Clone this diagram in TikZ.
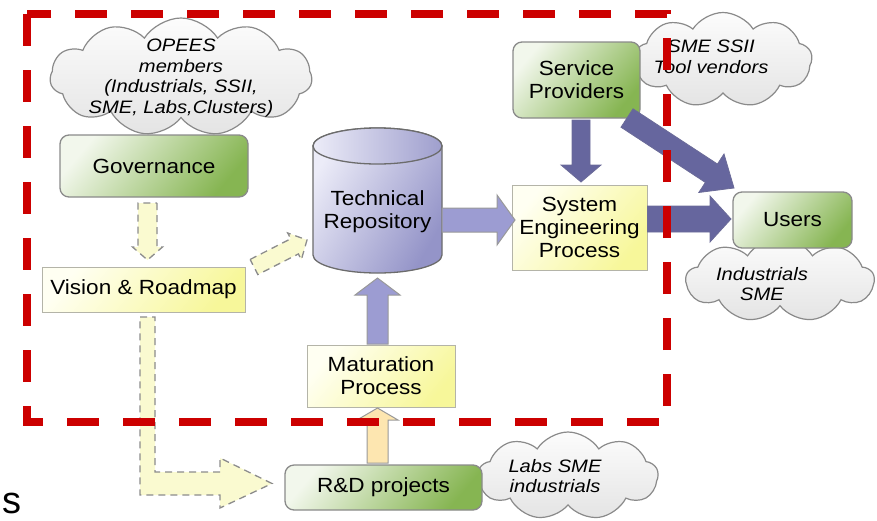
\documentclass[tikz,border=0pt]{standalone}
\usepackage{fontspec}
\setmainfont{Liberation Sans}
\newfontfamily\boxfont[FakeStretch=1.1]{Liberation Sans}
\newfontfamily\cloudfont[FakeStretch=1.12]{Liberation Sans}
\usetikzlibrary{calc,shapes.symbols}
\definecolor{grnL}{HTML}{F2F7EC}
\definecolor{grnD}{HTML}{86B552}
\definecolor{ylwL}{HTML}{FFFFF2}
\definecolor{ylwD}{HTML}{F7F79A}
\definecolor{boxline}{HTML}{8A8A8A}
\definecolor{ylwline}{HTML}{B4B4A8}
\definecolor{cldL}{HTML}{FCFCFC}
\definecolor{cldD}{HTML}{E4E4E4}
\definecolor{cylL}{HTML}{ECECF8}
\definecolor{cylD}{HTML}{9494C8}
\definecolor{darkarr}{HTML}{66669E}
\definecolor{lightarr}{HTML}{9C9CD2}
\definecolor{peach}{HTML}{FDE6B0}
\definecolor{dashfill}{HTML}{FAFAD0}
\definecolor{redline}{HTML}{CC0000}
\newcommand{\blockarr}[6]{%
  \coordinate (bac) at ($(#3)!#6!(#2)$);
  \draw[#1] ($(#2)!#4!90:(#3)$) -- ($(bac)!#4!90:(#3)$) -- ($(bac)!#5!90:(#3)$) -- (#3)
    -- ($(bac)!#5!-90:(#3)$) -- ($(bac)!#4!-90:(#3)$) -- ($(#2)!#4!-90:(#3)$) -- cycle;}
\begin{document}
\begin{tikzpicture}[x=1pt,y=-1pt,
  boxtext/.style={font=\boxfont\fontsize{20.5}{23}\selectfont, align=center, inner sep=0pt},
  greenbox/.style={boxtext, draw=boxline, line width=1.3pt, rounded corners=9pt,
    top color=grnL, bottom color=grnD, shading angle=50},
  yellowbox/.style={boxtext, draw=ylwline, line width=1pt,
    top color=ylwL, bottom color=ylwD, shading angle=50},
  cloudshape/.style={cloud, cloud puffs=#1, cloud puff arc=115, cloud ignores aspect,
    draw=boxline, line width=1.2pt, top color=cldL, bottom color=cldD, inner sep=0pt},
  cloudtext/.style={font=\cloudfont\fontsize{18}{20.6}\selectfont\itshape, align=center, inner sep=0pt},
  darkstyle/.style={fill=darkarr, draw=darkarr!80!gray, line width=0.8pt},
  lightstyle/.style={fill=lightarr, draw=gray!80, line width=1pt},
  peachstyle/.style={fill=peach, draw=gray!80, line width=1pt},
  dashstyle/.style={fill=dashfill, draw=gray!90, line width=1.3pt, dash pattern=on 7pt off 5pt},
]
\useasboundingbox (0,0) rectangle (877,520);

% clouds
\node[cloudshape=11, minimum width=262pt, minimum height=118pt] (c1) at (181,77) {};
\node[cloudshape=9, minimum width=178pt, minimum height=95pt] (c2) at (723,60) {};
\node[cloudshape=9, minimum width=188pt, minimum height=84pt] (c3) at (780,280) {};
\node[cloudshape=9, minimum width=180pt, minimum height=88pt] (c4) at (568,476) {};
\node[cloudtext] (c1t) at (181,78) {OPEES\\members\\(Industrials, SSII,\\SME, Labs,Clusters)};
\node[cloudtext] (c2t) at (711,57) {SME SSII\\Tool vendors};
\node[cloudtext] (c3t) at (762,284) {Industrials\\SME};
\node[cloudtext] (c4t) at (555,476) {Labs SME\\industrials};

% boxes
\node[greenbox, minimum width=188pt, minimum height=62pt] (gov) at (154,166) {Governance};
\node[yellowbox, minimum width=203pt, minimum height=45pt] (vision) at (143.5,289.5) {Vision \& Roadmap};
\node[greenbox, minimum width=127pt, minimum height=76pt] (sp) at (576.5,80) {Service\\Providers};
\node[yellowbox, minimum width=135pt, minimum height=85pt] (sep) at (579.5,227.5) {System\\Engineering\\Process};
\node[greenbox, minimum width=119pt, minimum height=56pt] (users) at (792.5,220) {Users};
\node[yellowbox, minimum width=148pt, minimum height=62pt] (mat) at (381,376) {Maturation\\Process};
\node[greenbox, minimum width=197pt, minimum height=45pt] (rnd) at (383.5,487.5) {R\&D projects};

% cylinder
\path[top color=cylL, bottom color=cylD, shading angle=60, draw=gray!85!black, line width=1.3pt]
  (313,146) -- (313,255) arc (180:360:64.5pt and 18pt) -- (442,146) arc (0:180:64.5pt and 18pt) -- cycle;
\path[left color=cylL, right color=cylD!90!white, draw=gray!85!black, line width=1.3pt]
  (377.5,146) ellipse (64.5pt and 18pt);
\node[boxtext, minimum width=129pt, minimum height=145pt] (rep) at (377.5,212) {Technical\\Repository};

% arrow end points
\coordinate (a1s) at (rep.east |- 0,220);
\coordinate (a1e) at (515,220);
\coordinate (a2s) at (581,120);
\coordinate (a2e) at (581,182);
\coordinate (a3s) at (sep.east |- 0,219);
\coordinate (a3e) at (731,219);
\coordinate (a4s) at (627,118);
\coordinate (a4e) at (734,188);
\coordinate (a5s) at (377.5,344);
\coordinate (a5e) at (377.5,278);
\coordinate (a6s) at (377.5,463);
\coordinate (a6e) at (377.5,408);
\coordinate (a7s) at (147.5,203);
\coordinate (a7e) at (147.5,260);
\coordinate (a8s) at (254,267);
\coordinate (a8e) at (307,240);

\blockarr{lightstyle}{a1s}{a1e}{12pt}{25pt}{18pt}
\blockarr{darkstyle}{a2s}{a2e}{9pt}{20pt}{17pt}
\blockarr{darkstyle}{a3s}{a3e}{13pt}{23pt}{21pt}
\blockarr{darkstyle}{a4s}{a4e}{11pt}{23pt}{27pt}
\blockarr{lightstyle}{a5s}{a5e}{10.5pt}{22.5pt}{17pt}
\blockarr{peachstyle}{a6s}{a6e}{10.5pt}{20.5pt}{12pt}
\blockarr{dashstyle}{a7s}{a7e}{9.5pt}{15pt}{13pt}
\blockarr{dashstyle}{a8s}{a8e}{8.5pt}{15pt}{14pt}

% L-shaped dashed arrow
\coordinate (ls) at (147.5,317);
\coordinate (le) at (272,483.5);
\draw[dashstyle] (ls) ++(-7.5,0) -- ++(15,0) |- ($(le)+(-52,-11.5)$) -- ++(0,-14) -- (le)
  -- ++(-52,24.5) -- ++(0,-13) -| ($(ls)+(-7.5,0)$) -- cycle;

% red dashed frame
\draw[redline, line width=8pt, dash pattern=on 32pt off 24pt]
  (27,14) -- (27,422) -- (667,422) -- (667,14) -- cycle;

% stray letter
\node[font=\fontsize{38}{38}\selectfont, inner sep=1pt, anchor=base west] (s) at (1,513) {s};
\end{tikzpicture}
\end{document}
